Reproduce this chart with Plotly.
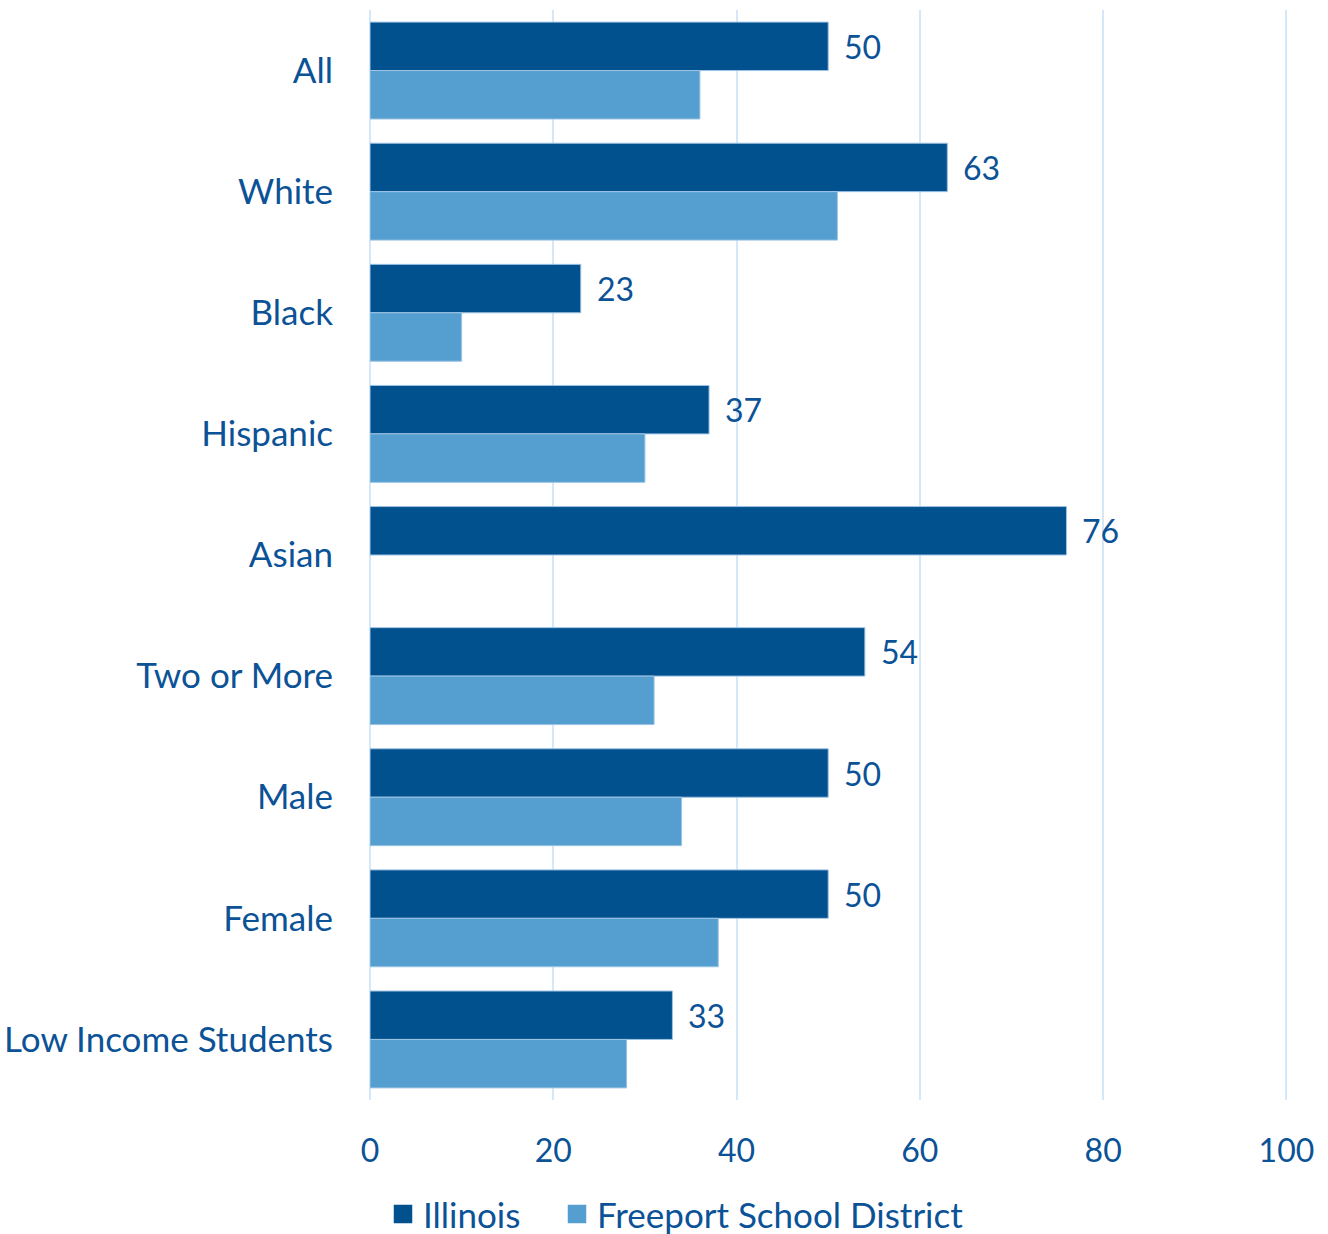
import plotly.graph_objects as go

categories = ["All", "White", "Black", "Hispanic", "Asian", "Two or More", "Male", "Female", "Low Income Students"]
illinois = [50, 63, 23, 37, 76, 54, 50, 50, 33]
freeport = [36, 51, 10, 30, None, 31, 34, 38, 28]
x_ticks = [0, 20, 40, 60, 80, 100]
series_names = ["Illinois", "Freeport School District"]

TEXT = "#0B5296"
DARK = "#02518F"
LIGHT = "#549FD0"
GRID = "#D4E8FA"
FONT = "Lato"

fig = go.Figure()
for name, vals, col in [(series_names[0], illinois, DARK), (series_names[1], freeport, LIGHT)]:
    fig.add_trace(go.Bar(y=categories, x=vals, name=name, orientation="h", showlegend=False,
                         marker=dict(color=col, line=dict(color="#9CC3E4", width=1))))
# legend proxies with larger square symbols, one legend each
for name, col, lg in [(series_names[0], DARK, "legend"), (series_names[1], LIGHT, "legend2")]:
    fig.add_trace(go.Scatter(x=[None], y=[None], mode="markers", name=name, legend=lg,
                             marker=dict(symbol="square", size=16, color=col,
                                         line=dict(color=col, width=2.5)),
                             showlegend=True))

for i, v in enumerate(illinois):
    fig.add_annotation(x=v, y=i - 0.2, xref="x", yref="y", text=str(v), showarrow=False,
                       xanchor="left", yanchor="middle", xshift=14,
                       font=dict(family=FONT, size=32, color=TEXT))

legend_common = dict(orientation="h", xref="container", yref="container", y=0.016,
                     xanchor="left", yanchor="middle",
                     font=dict(family=FONT, size=35, color=TEXT), itemwidth=30,
                     bgcolor="rgba(0,0,0,0)")

fig.update_layout(
    width=1328, height=1234,
    margin=dict(l=370, r=37, t=10, b=134, autoexpand=False),
    paper_bgcolor="white", plot_bgcolor="white",
    barmode="group", bargap=0.2, bargroupgap=0,
    font=dict(family=FONT, size=32, color=TEXT),
    legend=dict(x=383 / 1328, **legend_common),
    legend2=dict(x=557 / 1328, **legend_common),
    showlegend=True,
)
fig.update_xaxes(range=[0, 100.5], tickvals=x_ticks, showgrid=True, gridcolor=GRID, gridwidth=2,
                 zeroline=True, zerolinecolor=GRID, zerolinewidth=2, showline=False,
                 ticks="outside", ticklen=23, tickcolor="rgba(0,0,0,0)", automargin=False,
                 tickfont=dict(family=FONT, size=32, color=TEXT))
fig.update_yaxes(autorange="reversed", showgrid=False, showline=False,
                 ticks="outside", ticklen=29, tickcolor="rgba(0,0,0,0)", automargin=False,
                 tickfont=dict(family=FONT, size=35, color=TEXT))

fig.write_html("out.html", config={"displayModeBar": False},
               post_script="document.body.style.margin='0';")
